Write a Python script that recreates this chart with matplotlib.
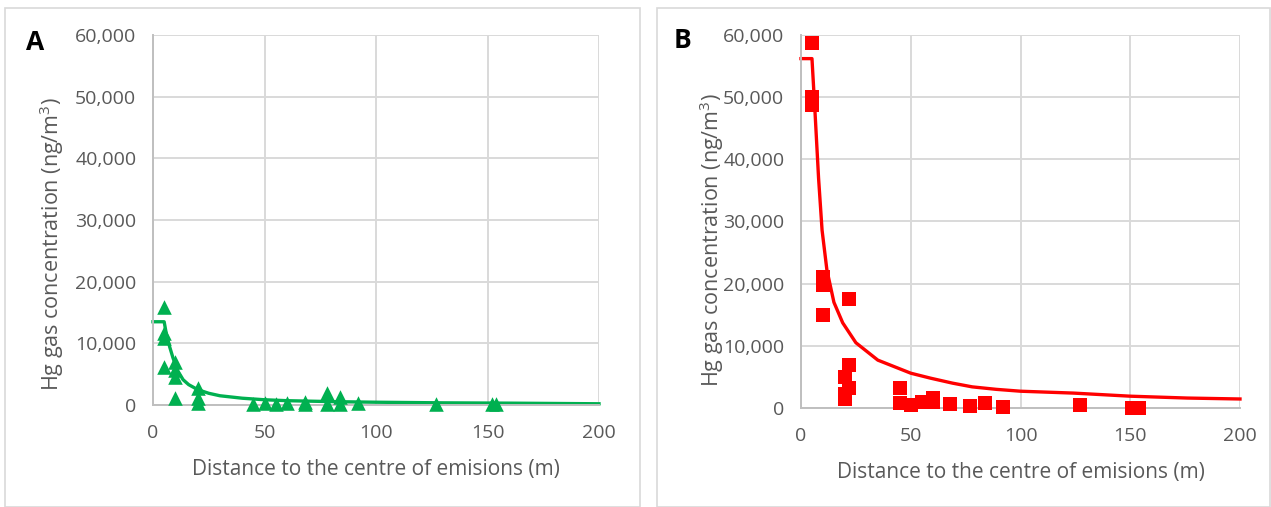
import matplotlib
matplotlib.use("Agg")
import matplotlib.pyplot as plt
from matplotlib.patches import Rectangle
from matplotlib.ticker import FuncFormatter

# ---- data ----
xA = [5, 5, 5, 5, 10, 10, 10, 10, 20, 20, 20, 45, 50, 55, 60, 68, 68, 78, 78, 84, 84, 92, 127, 152, 154]
yA = [15900, 11700, 10900, 6200, 7000, 5700, 4500, 1100, 2750, 1100, 300,
      100, 300, 200, 300, 200, 500, 2000, 100, 1300, 100, 300, 200, 100, 100]
fitA_x = [0, 5, 6, 7.5, 9, 11, 13.5, 16, 20, 25, 30, 40, 50, 60, 80, 100, 130, 160, 200]
fitA_y = [13500, 13500, 11500, 9400, 7600, 5600, 4100, 3300, 2500, 1900, 1500, 1100,
          850, 700, 550, 450, 350, 300, 200]

xB = [5, 5, 5, 5, 10, 10, 10, 22, 22, 20, 22, 20, 20, 45, 45, 50, 55, 60, 60, 68, 77, 84, 92, 127, 151, 154]
yB = [58700, 50100, 49300, 48700, 21000, 19800, 15000, 17500, 6900, 5000, 3200, 2300, 1500,
      3270, 800, 500, 1000, 1600, 1000, 650, 370, 750, 210, 500, 0, 0]
fitB_x = [0, 5, 6.4, 8, 9.6, 11.8, 15, 19, 25, 35, 50, 59, 69, 78, 89, 100, 124, 150, 176, 200]
fitB_y = [56200, 56200, 47500, 37000, 28600, 22200, 17000, 13700, 10500, 7700, 5600, 4800,
          4000, 3400, 3000, 2700, 2400, 1900, 1600, 1450]

xticks = [0, 50, 100, 150, 200]
yticks = [0, 10000, 20000, 30000, 40000, 50000, 60000]

xlabel = "Distance to the centre of emisions (m)"
ylabel = "Hg gas concentration (ng/m$^3$)"

plt.rcParams['font.family'] = ['Open Sans', 'DejaVu Sans']
plt.rcParams['mathtext.fontset'] = 'custom'
plt.rcParams['mathtext.rm'] = 'Open Sans'

W, H = 1271, 507
fig = plt.figure(figsize=(W / 100, H / 100), dpi=100)

# panel frames
for (x0, x1) in [(5, 640), (657, 1270)]:
    fig.patches.append(Rectangle((x0 / W, 0), (x1 - x0) / W, (H - 8) / H, transform=fig.transFigure,
                                 fill=False, edgecolor='#D9D9D9', linewidth=1.2))

grid_c = '#D9D9D9'
txt_c = '#595959'


def setup(ax):
    ax.set_xlim(0, 200)
    ax.set_ylim(0, 60000)
    ax.set_xticks(xticks)
    ax.set_yticks(yticks)
    ax.yaxis.set_major_formatter(FuncFormatter(lambda v, p: f"{int(v):,}"))
    ax.grid(True, color=grid_c, linewidth=1.4)
    ax.set_axisbelow(True)
    for s in ['top', 'right']:
        ax.spines[s].set_visible(False)
    for s in ['left', 'bottom']:
        ax.spines[s].set_color('#BFBFBF')
        ax.spines[s].set_linewidth(1.4)
    ax.tick_params(axis='y', length=0, labelsize=14, colors=txt_c, pad=12)
    ax.tick_params(axis='x', length=0, labelsize=14, colors=txt_c, pad=14)
    ax.set_xlabel(xlabel, fontsize=15, color=txt_c, labelpad=12)


axA = fig.add_axes([153 / W, 102 / H, (599 - 153) / W, (405 - 35) / H])
setup(axA)
axA.plot(fitA_x, fitA_y, color='#00B050', linewidth=2.4, zorder=2, clip_on=False)
axA.scatter(xA, yA, marker='^', s=110, color='#00B050', zorder=3, clip_on=False, linewidths=0)

axB = fig.add_axes([801 / W, 99 / H, (1240 - 801) / W, (408 - 35) / H])
setup(axB)
axB.plot(fitB_x, fitB_y, color='#FF0000', linewidth=2.4, zorder=2, clip_on=False)
axB.scatter(xB, yB, marker='s', s=95, color='#FF0000', zorder=3, clip_on=False, linewidths=0)

fig.text(52 / W, 1 - 244 / H, ylabel, rotation=90, fontsize=15.5, color=txt_c, ha='center', va='center')
fig.text(712 / W, 1 - 240 / H, ylabel, rotation=90, fontsize=15.5, color=txt_c, ha='center', va='center')

fig.text(35 / W, 1 - 42 / H, "A", fontsize=19, fontweight='bold', ha='center', va='center', color='black')
fig.text(683 / W, 1 - 40 / H, "B", fontsize=19, fontweight='bold', ha='center', va='center', color='black')

fig.savefig("out.png", dpi=100)
